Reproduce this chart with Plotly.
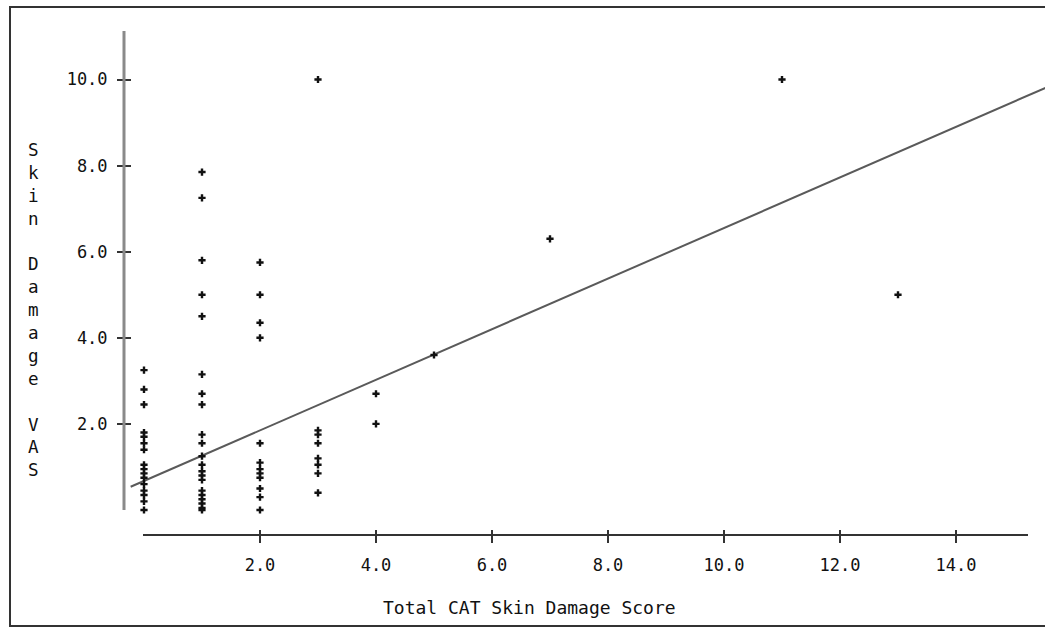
import plotly.graph_objects as go

# ---- data ----
cat_score_0 = [3.25, 2.8, 2.45, 1.8, 1.7, 1.55, 1.4, 1.05, 0.95, 0.85, 0.75, 0.6, 0.45, 0.35, 0.2, 0.0]
cat_score_1 = [7.85, 7.25, 5.8, 5.0, 4.5, 3.15, 2.7, 2.45, 1.75, 1.55, 1.25, 1.05, 0.9, 0.8, 0.7,
               0.45, 0.35, 0.25, 0.15, 0.05, 0.0]
cat_score_2 = [5.75, 5.0, 4.35, 4.0, 1.55, 1.1, 0.95, 0.85, 0.75, 0.5, 0.3, 0.0]
cat_score_3 = [10.0, 1.85, 1.75, 1.55, 1.2, 1.05, 0.85, 0.4]
cat_score_4 = [2.7, 2.0]
other_scores = [5, 7, 11, 13]
other_vas = [3.6, 6.3, 10.0, 5.0]

fit_intercept = 0.675
fit_slope = 0.5875
fit_x = [-0.23, 15.6]

x_ticks = [2, 4, 6, 8, 10, 12, 14]
x_tick_labels = ["2.0", "4.0", "6.0", "8.0", "10.0", "12.0", "14.0"]
y_ticks = [2, 4, 6, 8, 10]
y_tick_labels = ["2.0", "4.0", "6.0", "8.0", "10.0"]

x_title = "Total CAT Skin Damage Score"
y_title = "Skin Damage VAS"

# ---- build point lists ----
xs, ys = [], []
for score, vals in [(0, cat_score_0), (1, cat_score_1), (2, cat_score_2), (3, cat_score_3), (4, cat_score_4)]:
    xs += [score] * len(vals)
    ys += vals
xs += other_scores
ys += other_vas

fit_y = [fit_intercept + fit_slope * v for v in fit_x]

W, H = 1045, 627
def px(v):
    return v / W
def py(v):
    return 1 - v / H

FONT = "DejaVu Sans Mono"
TXT = "#111111"

fig = go.Figure()
fig.add_trace(go.Scatter(x=fit_x, y=fit_y, mode="lines",
                         line=dict(color="#5a5a5a", width=2), hoverinfo="skip"))
fig.add_trace(go.Scatter(x=xs, y=ys, mode="markers", cliponaxis=False,
                         marker=dict(symbol="cross", size=6, color="#111111")))

fig.update_layout(
    width=W, height=H,
    margin=dict(l=0, r=0, t=0, b=0),
    paper_bgcolor="white", plot_bgcolor="white",
    showlegend=False,
    font=dict(family=FONT, size=17, color=TXT),
    xaxis=dict(domain=[px(124), 1.0], range=[-(144 - 124) / 58, (1045 - 144) / 58],
               anchor="free", position=py(529), side="bottom",
               showgrid=False, zeroline=False, showline=False,
               tickmode="array", tickvals=x_ticks, ticktext=x_tick_labels,
               ticks="outside", ticklen=13, tickwidth=2, tickcolor="#333333",
               ticklabelstandoff=8,
               tickfont=dict(family=FONT, size=17, color=TXT)),
    yaxis=dict(domain=[py(510), py(31)], range=[0, (510 - 31) / 43.05],
               anchor="free", position=px(131), side="left",
               showgrid=False, zeroline=False, showline=False,
               tickmode="array", tickvals=y_ticks, ticktext=y_tick_labels,
               ticks="outside", ticklen=14, tickwidth=2, tickcolor="#333333",
               ticklabelstandoff=6,
               tickfont=dict(family=FONT, size=17, color=TXT)),
    shapes=[
        dict(type="line", xref="paper", yref="paper", x0=px(124), x1=px(124), y0=py(510), y1=py(31),
             line=dict(color="#8a8a8a", width=3)),
        dict(type="line", xref="paper", yref="paper", x0=px(143), x1=px(1028), y0=py(535), y1=py(535),
             line=dict(color="#333333", width=2)),
        dict(type="rect", xref="paper", yref="paper", x0=px(10), x1=1.02, y0=py(626), y1=py(7),
             line=dict(color="#333333", width=2)),
    ],
    annotations=[
        dict(text=x_title, xref="paper", yref="paper", x=px(529), y=py(607),
             xanchor="center", yanchor="middle", showarrow=False,
             font=dict(family=FONT, size=18, color=TXT)),
        dict(text="<br>".join(ch if ch != " " else "&nbsp;" for ch in y_title),
             xref="paper", yref="paper", x=px(33), y=py(310),
             xanchor="center", yanchor="middle", showarrow=False,
             font=dict(family=FONT, size=17.6, color=TXT)),
    ],
)

fig.write_html("out.html", config={"displayModeBar": False},
               post_script="document.body.style.margin='0px';")
